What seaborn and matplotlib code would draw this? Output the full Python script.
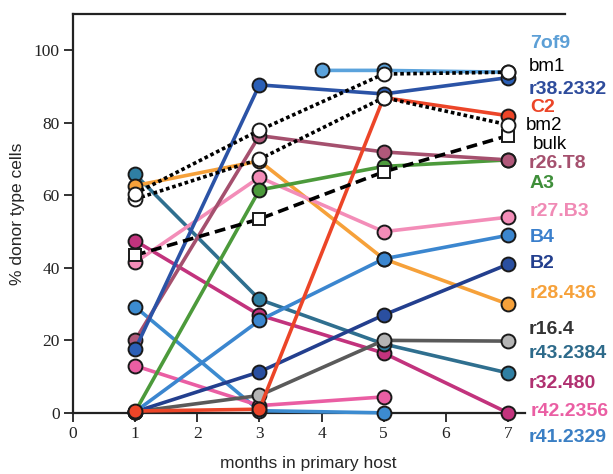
import matplotlib
matplotlib.use("Agg")
import matplotlib.pyplot as plt
import seaborn as sns
import pandas as pd

# months sampled for each clone / sample
x_std = [1, 3, 5, 7]
x_short = [1, 3, 5]
x_7of9 = [4, 5, 7]

# % donor type cells
v_7of9 = [94.5, 94.5, 94]
v_bm1 = [60.5, 78, 93.5, 94]
v_r38_2332 = [17.5, 90.5, 88, 92.5]
v_C2 = [0.5, 1, 87, 82]
v_bm2 = [59, 70, 87, 79.5]
v_bulk = [43.5, 53.5, 66.5, 76.5]
v_r26_T8 = [20, 76.5, 72, 69.8]
v_A3 = [0.3, 61.5, 68, 69.8]
v_r27_B3 = [41.5, 65, 50, 54]
v_B4 = [0.3, 25.5, 42.5, 49]
v_B2 = [0.3, 11.3, 27, 41]
v_r28_436 = [62.7, 69.5, 42.5, 30]
v_r16_4 = [0.3, 4.8, 20, 19.8]
v_r43_2384 = [65.8, 31.3, 19, 11]
v_r32_480 = [47.5, 27, 16.5, 0]
v_r42_2356 = [13, 2, 4.4]
v_r41_2329 = [29.3, 0.6, 0]

# name, x, y, line colour, marker face, marker, line style
series = [
    ("r41.2329", x_short, v_r41_2329, "#3c8bd0", "#3c8bd0", "o", "-"),
    ("r42.2356", x_short, v_r42_2356, "#ea5ea3", "#ea5ea3", "o", "-"),
    ("r32.480", x_std, v_r32_480, "#c2337d", "#c2337d", "o", "-"),
    ("r43.2384", x_std, v_r43_2384, "#2f6f8f", "#2f7fa3", "o", "-"),
    ("r16.4", x_std, v_r16_4, "#5a5a5a", "#b4b4b4", "o", "-"),
    ("r28.436", x_std, v_r28_436, "#f6a13a", "#f6a13a", "o", "-"),
    ("B2", x_std, v_B2, "#233f8e", "#2a4fa0", "o", "-"),
    ("B4", x_std, v_B4, "#3b86cf", "#3b86cf", "o", "-"),
    ("r27.B3", x_std, v_r27_B3, "#f38db8", "#f38db8", "o", "-"),
    ("A3", x_std, v_A3, "#4c9a3b", "#4c9a3b", "o", "-"),
    ("r26.T8", x_std, v_r26_T8, "#a5506e", "#b0587a", "o", "-"),
    ("C2", x_std, v_C2, "#ec4528", "#ec4528", "o", "-"),
    ("r38.2332", x_std, v_r38_2332, "#2b53a6", "#2b5fb6", "o", "-"),
    ("7of9", x_7of9, v_7of9, "#5ba3dc", "#5ba3dc", "o", "-"),
    ("bulk", x_std, v_bulk, "black", "white", "s", (0, (3, 1.6))),
    ("bm2", x_std, v_bm2, "black", "white", "o", (0, (1, 0.8))),
    ("bm1", x_std, v_bm1, "black", "white", "o", (0, (1, 0.8))),
]

# right-hand labels: text, colour, bold, y pixel, x pixel
label_text = ["7of9", "bm1", "r38.2332", "C2", "bm2", "bulk", "r26.T8", "A3",
              "r27.B3", "B4", "B2", "r28.436", "r16.4", "r43.2384", "r32.480",
              "r42.2356", "r41.2329"]
label_color = ["#5c9fd6", "black", "#2e4c9c", "#ec4528", "black", "black", "#a5506e",
               "#3f8f3a", "#f08ab5", "#3a7fcc", "#233f8e", "#f6a13a", "#333333",
               "#2d6a8a", "#b03070", "#ea5ea3", "#3a7fc4"]
label_bold = [True, False, True, True, False, False, True, True, True, True, True,
              True, True, True, True, True, True]
label_y = [43, 67, 89, 108, 125, 145, 163, 183, 212, 238, 263, 294, 330, 353, 383,
           411, 438]
label_x = [530, 529, 529, 530, 526, 533, 529, 530, 530, 530, 530, 530, 529, 529,
           529, 531, 529]

sns.set_style("ticks")
plt.rcParams['font.family'] = ['Liberation Sans', 'DejaVu Sans']

fig = plt.figure(figsize=(6.13, 4.74), dpi=100)
ax = fig.add_axes([0.119, 0.129, 0.803, 0.841])

for name, xs, ys, lc, fc, mk, ls in series:
    df = pd.DataFrame({"month": xs, "pct": ys})
    sns.lineplot(data=df, x="month", y="pct", ax=ax, color=lc, linewidth=2.6,
                 linestyle=ls, marker=mk, markersize=10 if mk == "o" else 8,
                 markerfacecolor=fc, markeredgecolor="#1a1a1a",
                 markeredgewidth=1.4, clip_on=False, zorder=3)

ax.set_xlim(0, 7.92)
ax.set_ylim(0, 110)
ax.set_xticks(range(0, 8))
ax.set_yticks(range(0, 101, 20))
ax.spines['right'].set_visible(False)
ax.spines['bottom'].set_bounds(0, 7.27)
for s in ['left', 'bottom', 'top']:
    ax.spines[s].set_linewidth(1.6)
    ax.spines[s].set_color("#222222")
ax.tick_params(axis='both', labelsize=12.5, width=1.3, length=6.5, colors="#222222",
               pad=3)
for lab in ax.get_xticklabels() + ax.get_yticklabels():
    lab.set_family(['Liberation Serif', 'DejaVu Serif'])
ax.set_xlabel("months in primary host", fontsize=12.5)
ax.set_ylabel("% donor type cells", fontsize=12.5)
ax.xaxis.set_label_coords((308 - 73) / (565 - 73), -0.107)
ax.yaxis.set_label_coords(-0.097, 0.5)

for t, c, b, y, x in zip(label_text, label_color, label_bold, label_y, label_x):
    fig.text(x / 613, 1 - y / 474, t, color=c, fontsize=14 if b else 13.5,
             fontweight="bold" if b else "normal", va="center", ha="left")

fig.savefig("out.png", dpi=100)
